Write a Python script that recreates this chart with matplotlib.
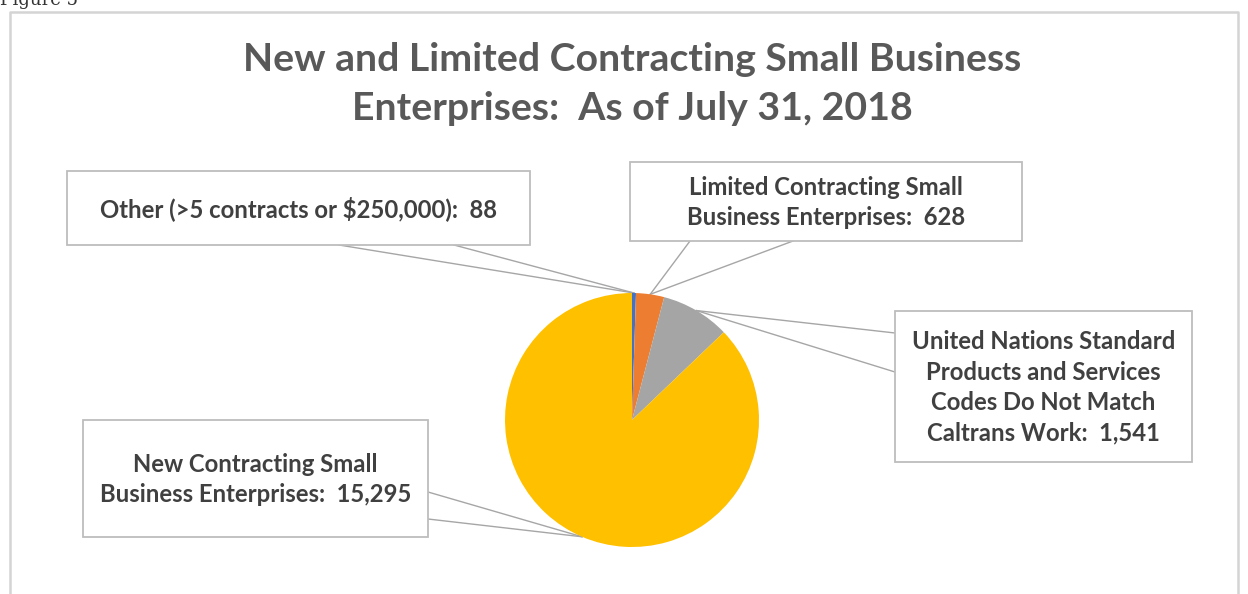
import matplotlib.pyplot as plt
from matplotlib.patches import Rectangle
import numpy as np

# SBE counts as of July 31, 2018
categories = ["Other (>5 contracts or $250,000)",
              "Limited Contracting Small Business Enterprises",
              "United Nations Standard Products and Services Codes Do Not Match Caltrans Work",
              "New Contracting Small Business Enterprises"]
counts = [88, 628, 1541, 15295]
label_text = ["Other (>5 contracts or $250,000):  88",
              "Limited Contracting Small\nBusiness Enterprises:  628",
              "United Nations Standard\nProducts and Services\nCodes Do Not Match\nCaltrans Work:  1,541",
              "New Contracting Small\nBusiness Enterprises:  15,295"]
colors = ["#4472C4", "#ED7D31", "#A5A5A5", "#FFC000"]

W, H = 1248, 594
fig = plt.figure(figsize=(W / 100, H / 100), dpi=100, facecolor='w')
ax = fig.add_axes([0, 0, 1, 1])

cx, cy, r = 632, H - 420, 127
wedges, _ = ax.pie(counts, colors=colors, startangle=90, counterclock=False,
                   center=(cx, cy), radius=r, wedgeprops=dict(linewidth=0))
ax.set_xlim(0, W)
ax.set_ylim(0, H)
ax.set_aspect('equal')
ax.axis('off')

# outer chart frame
frame = "#d4d4d4"
ax.plot([10, 10, 1238, 1238], [-5, H - 12, H - 12, -5], color=frame, lw=1.8)

fig.text(0.0, 1.0, "Figure 5", family='DejaVu Serif', fontsize=13,
         ha='left', va='center', color='#333333')

fig.text(cx / W, 1 - 84 / H, "New and Limited Contracting Small Business\nEnterprises:  As of July 31, 2018",
         ha='center', va='center', family='Lato', fontweight='bold', fontsize=28.3,
         color='#595959', linespacing=1.5)

# label boxes: (left, top, right, bottom) in pixels, and the two callout anchors on the box
boxes = [
    ((67, 171, 530, 245), [(339, 245), (454, 245)]),
    ((630, 162, 1022, 241), [(690, 241), (793, 241)]),
    ((895, 311, 1192, 462), [(895, 333), (895, 372)]),
    ((83, 420, 428, 537), [(428, 492), (428, 519)]),
]

for w, (box, anchors), txt in zip(wedges, boxes, label_text):
    mid = np.deg2rad((w.theta1 + w.theta2) / 2)
    tx, ty = cx + r * np.cos(mid), cy + r * np.sin(mid)
    for axx, ayy in anchors:
        ax.plot([axx, tx], [H - ayy, ty], color='#a6a6a6', lw=1, zorder=1)
    x0, y0, x1, y1 = box
    ax.add_patch(Rectangle((x0, H - y1), x1 - x0, y1 - y0, facecolor='white',
                           edgecolor='#bdbdbd', lw=1.3, zorder=3))
    ax.text((x0 + x1) / 2, H - (y0 + y1) / 2 - 1, txt, ha='center', va='center',
            family='Lato', fontweight='bold', fontsize=17.2, color='#404040',
            linespacing=1.4, zorder=4)

for w in wedges:
    w.set_zorder(2)

fig.savefig("out.png", dpi=100, facecolor='w')
